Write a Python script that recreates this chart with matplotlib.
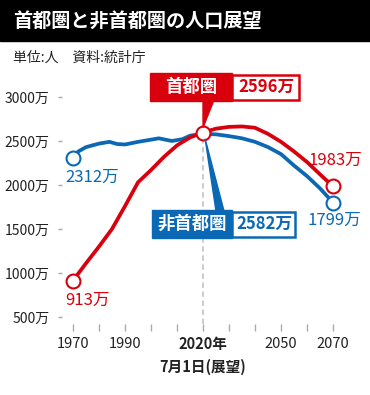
import matplotlib.pyplot as plt
from matplotlib.patches import Rectangle, Polygon

plt.rcParams['font.family'] = ['Noto Sans CJK JP', 'DejaVu Sans']

# 首都圏 (red) and 非首都圏 (blue), 万人
red_years = [1970, 1975, 1980, 1985, 1990, 1995, 2000, 2005, 2010, 2015, 2020,
             2025, 2030, 2035, 2040, 2045, 2050, 2055, 2060, 2065, 2070]
red_vals = [913, 1110, 1300, 1500, 1760, 2030, 2170, 2320, 2450, 2540, 2596,
            2640, 2660, 2665, 2650, 2580, 2490, 2380, 2260, 2120, 1983]
blue_years = [1970, 1972, 1975, 1980, 1984, 1987, 1990, 1995, 2000, 2003, 2008,
              2012, 2015, 2020, 2025, 2030, 2035, 2040, 2045, 2050, 2055, 2060, 2065, 2070]
blue_vals = [2312, 2380, 2430, 2470, 2490, 2465, 2460, 2490, 2515, 2530, 2500,
             2520, 2560, 2582, 2575, 2555, 2530, 2490, 2430, 2350, 2220, 2100, 1960, 1799]

yticks = [500, 1000, 1500, 2000, 2500, 3000]
ytick_labels = [f'{v}万' for v in yticks]
xticks = list(range(1970, 2071, 10))
xtick_labels = ['1970', '', '1990', '', '', '2020年\n7月1日(展望)', '', '', '2050', '', '2070']

RED = '#d9000d'
BLUE = '#0b68b4'
W, H = 370, 395

fig = plt.figure(figsize=(W / 100, H / 100), dpi=100)


def fx(px):
    return px / W


def fy(py):
    return 1 - py / H


# title band
fig.patches.append(Rectangle((0, fy(41)), 1, 41 / H, transform=fig.transFigure,
                             color='black', zorder=0))
fig.text(fx(13), fy(21), '首都圏と非首都圏の人口展望', color='white', fontsize=13.8,
         fontweight='bold', va='center', ha='left')
fig.text(fx(13), fy(58), '単位:人　資料:統計庁', color='#222222', fontsize=10,
         va='center', ha='left')

ax = fig.add_axes([fx(62), fy(324), fx(350) - fx(62), fy(85) - fy(324)])
ax.set_xlim(1965.77, 2076.5)
ax.set_ylim(420, 3136)
for s in ax.spines.values():
    s.set_visible(False)

ax.set_yticks(yticks)
ax.set_yticklabels(ytick_labels)
ax.set_xticks(xticks)
ax.set_xticklabels(xtick_labels)
ax.tick_params(axis='y', length=3, width=1, color='#aaaaaa', pad=6, labelsize=10,
               labelcolor='#222222')
ax.tick_params(axis='x', length=5, width=1, color='#aaaaaa', pad=4, labelsize=10.5,
               labelcolor='#222222')
for lab in ax.get_xticklabels():
    if '2020' in lab.get_text():
        lab.set_fontweight('bold')
        lab.set_linespacing(1.45)

# dashed 2020 guide
ax.plot([2020, 2020], [420, blue_vals[blue_years.index(2020)]], color='#c8c8c8',
        lw=1.3, ls=(0, (3, 2)), zorder=1, clip_on=False)

ax.plot(blue_years, blue_vals, color=BLUE, lw=2.7, zorder=3, solid_capstyle='round')
ax.plot(red_years, red_vals, color=RED, lw=2.7, zorder=4, solid_capstyle='round')

ms = 10
for yr, v, c in [(1970, blue_vals[0], BLUE), (2070, blue_vals[-1], BLUE)]:
    ax.plot(yr, v, 'o', ms=ms, mfc='white', mec=c, mew=1.5, zorder=5)
for yr, v in [(1970, red_vals[0]), (2020, red_vals[10]), (2070, red_vals[-1])]:
    ax.plot(yr, v, 'o', ms=ms, mfc='white', mec=RED, mew=1.5, zorder=6)

# end labels
fig.text(fx(92), fy(177), f'{blue_vals[0]}万', color=BLUE, fontsize=12, ha='center', va='center')
fig.text(fx(87), fy(300), f'{red_vals[0]}万', color=RED, fontsize=12, ha='center', va='center')
fig.text(fx(335), fy(160), f'{red_vals[-1]}万', color=RED, fontsize=12, ha='center', va='center')
fig.text(fx(334), fy(220), f'{blue_vals[-1]}万', color=BLUE, fontsize=12, ha='center', va='center')


def callout(x0, x1, x2, y0, y1, color, name, value, base, tip_year, tip_val, tip_off):
    # pointer wedge
    tx, ty = ax.transData.transform((tip_year, tip_val))
    tx, ty = tx / W, ty / H + tip_off / H
    poly = Polygon([(fx(base[0]), fy(base[2])), (fx(base[1]), fy(base[2])), (tx, ty)],
                   closed=True, transform=fig.transFigure, color=color, zorder=7)
    fig.patches.append(poly)
    fig.patches.append(Rectangle((fx(x0), fy(y1)), fx(x1) - fx(x0), (y1 - y0) / H,
                                 transform=fig.transFigure, color=color, zorder=8))
    fig.patches.append(Rectangle((fx(x1), fy(y1 - 1.5)), fx(x2 - 1.5) - fx(x1), (y1 - y0 - 3) / H,
                                 transform=fig.transFigure, facecolor='white',
                                 edgecolor=color, lw=1.8, zorder=8))
    fig.text(fx((x0 + x1) / 2), fy((y0 + y1) / 2), name, color='white', fontsize=12.5,
             fontweight='bold', ha='center', va='center', zorder=9)
    fig.text(fx((x1 + x2) / 2), fy((y0 + y1) / 2), value, color=color, fontsize=12,
             fontweight='bold', ha='center', va='center', zorder=9)


callout(150, 232, 300, 73, 101, RED, '首都圏', f'{red_vals[10]}万',
        (203, 214, 100), 2020, red_vals[10], 5)
callout(152, 232, 297, 210, 238, BLUE, '非首都圏', f'{blue_vals[13]}万',
        (216, 224, 211), 2020.8, blue_vals[13], -5)

fig.savefig('out.png', dpi=100)
